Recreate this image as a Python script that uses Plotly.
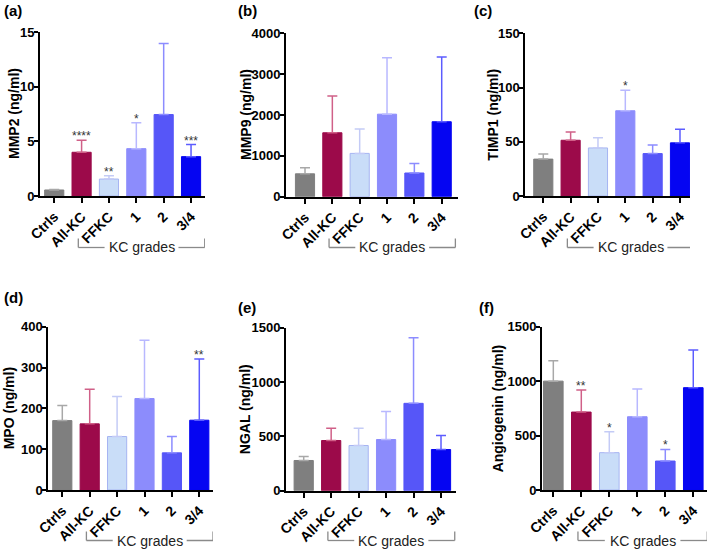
import plotly.graph_objects as go

W, H = 708, 550

categories = ["Ctrls", "All-KC", "FFKC", "1", "2", "3/4"]

# values (mean) and upper error ends
mmp2 = [0.55, 4.0, 1.55, 4.33, 7.45, 3.6]
mmp2_top = [0.6, 5.1, 1.85, 6.7, 13.95, 4.7]
mmp2_sig = ["", "****", "**", "*", "", "***"]

mmp9 = [560, 1565, 1060, 2020, 580, 1835]
mmp9_top = [710, 2465, 1655, 3400, 810, 3420]
mmp9_sig = ["", "", "", "", "", ""]

timp1 = [34, 51.4, 44.3, 78.6, 39.1, 49]
timp1_top = [38.8, 59, 53.8, 97.5, 47, 61.5]
timp1_sig = ["", "", "", "*", "", ""]

mpo = [170, 162, 131, 224, 91, 171]
mpo_top = [207, 247, 229, 367, 131, 321]
mpo_sig = ["", "", "", "", "", "**"]

ngal = [278, 462, 416, 471, 804, 379]
ngal_top = [315, 575, 575, 728, 1408, 508]
ngal_sig = ["", "", "", "", "", ""]

angio = [1000, 716, 343, 673, 266, 940]
angio_top = [1188, 918, 536, 927, 373, 1285]
angio_sig = ["", "**", "*", "", "*", ""]

ytitles = ["MMP2 (ng/ml)", "MMP9 (ng/ml)", "TIMP1 (ng/ml)",
           "MPO (ng/ml)", "NGAL (ng/ml)", "Angiogenin (ng/ml)"]
panel_labels = ["(a)", "(b)", "(c)", "(d)", "(e)", "(f)"]
ymax = [15, 4000, 150, 400, 1500, 1500]
ydtick = [5, 1000, 50, 100, 500, 500]
group_label = "KC grades"

panels = [
    (mmp2, mmp2_top, mmp2_sig),
    (mmp9, mmp9_top, mmp9_sig),
    (timp1, timp1_top, timp1_sig),
    (mpo, mpo_top, mpo_sig),
    (ngal, ngal_top, ngal_sig),
    (angio, angio_top, angio_sig),
]

fill_colors = ["#7f7f7f", "#9c0a4a", "#c9ddf8", "#8c8cfc", "#5656f8", "#0505f2"]
line_colors = ["#7f7f7f", "#9c0a4a", "#a6b4f2", "#8c8cfc", "#5656f8", "#0505f2"]
err_colors = ["#a8a8a8", "#d06088", "#c4cbf6", "#b8b8ff", "#8c8cff", "#5c5cff"]

# layout geometry (pixels): axis x start/end, y top/bottom, x range
geo = [
    dict(x0=40, x1=205, yt=32, yb=196, xr=(-0.52, 5.51), lab=(2, 10), tx=14),
    dict(x0=286, x1=457.7, yt=33.3, yb=196.7, xr=(-0.695, 5.585), lab=(236, 10), tx=246),
    dict(x0=525.3, x1=690, yt=33.3, yb=196, xr=(-0.658, 5.366), lab=(472, 10), tx=493),
    dict(x0=48.3, x1=213, yt=326.7, yb=490, xr=(-0.511, 5.5), lab=(2, 297), tx=9),
    dict(x0=286, x1=456, yt=327.7, yb=490.7, xr=(-0.645, 5.546), lab=(236, 307), tx=245),
    dict(x0=542, x1=707, yt=326.7, yb=490, xr=(-0.404, 5.49), lab=(477, 307), tx=498),
]
bracket_y = [247.5, 247.5, 247.5, 540.5, 540.5, 540.5]

fig = go.Figure()
annotations = []
shapes = []
font_fam = "Liberation Sans, Arial, sans-serif"

for p, (vals, tops, sigs) in enumerate(panels):
    g = geo[p]
    xa = "x" if p == 0 else f"x{p+1}"
    ya = "y" if p == 0 else f"y{p+1}"
    for i, cat in enumerate(categories):
        fig.add_trace(go.Bar(
            x=[i], y=[vals[i]], width=0.7, xaxis=xa, yaxis=ya,
            marker=dict(color=fill_colors[i], line=dict(color=line_colors[i], width=1)),
            error_y=dict(type="data", symmetric=False, array=[tops[i] - vals[i]],
                         arrayminus=[0], color=err_colors[i], thickness=1.5, width=5),
            showlegend=False, hoverinfo="skip",
        ))
        if sigs[i]:
            annotations.append(dict(
                x=i, y=tops[i], xref=xa, yref=ya, text=sigs[i], showarrow=False,
                yanchor="bottom", yshift=-5,
                font=dict(family=font_fam, size=12, color="#333333")))
    axkey = "xaxis" if p == 0 else f"xaxis{p+1}"
    aykey = "yaxis" if p == 0 else f"yaxis{p+1}"
    fig.layout[axkey] = dict(
        domain=[g["x0"] / W, g["x1"] / W], anchor=ya, range=list(g["xr"]),
        tickmode="array", tickvals=list(range(len(categories))), ticktext=categories,
        tickangle=-45, ticks="outside", ticklen=5, tickwidth=2, tickcolor="black",
        showline=True, linewidth=2, linecolor="black", showgrid=False, zeroline=False,
        tickfont=dict(family=font_fam, size=14, color="black", weight="bold"),
        fixedrange=True, automargin=False,
    )
    fig.layout[aykey] = dict(
        domain=[1 - g["yb"] / H, 1 - g["yt"] / H], anchor=xa, range=[0, ymax[p]],
        tickmode="linear", tick0=0, dtick=ydtick[p],
        ticks="outside", ticklen=4, tickwidth=2, tickcolor="black",
        ticklabelstandoff=-3,
        showline=True, linewidth=2, linecolor="black", showgrid=False, zeroline=False,
        tickfont=dict(family=font_fam, size=13, color="black", weight="bold"),
        fixedrange=True, automargin=False,
    )
    # y title
    annotations.append(dict(
        x=g["tx"] / W, y=1 - (g["yt"] + g["yb"]) / 2 / H, xref="paper", yref="paper",
        text=ytitles[p], textangle=-90, showarrow=False, xanchor="center", yanchor="middle",
        font=dict(family=font_fam, size=14, color="black", weight="bold")))
    # panel label
    annotations.append(dict(
        x=g["lab"][0] / W, y=1 - g["lab"][1] / H, xref="paper", yref="paper",
        text=panel_labels[p], showarrow=False, xanchor="left", yanchor="middle",
        font=dict(family=font_fam, size=15, color="black", weight="bold")))
    # KC grades bracket
    by = 1 - bracket_y[p] / H
    bt = 1 - (bracket_y[p] - 9) / H
    bx0, bx1 = 0.88, 5.5
    cx = (bx0 + bx1) / 2
    half = 37 / 27.4
    lc = dict(color="#8a8a8a", width=1.3)
    shapes += [
        dict(type="line", xref=xa, yref="paper", x0=bx0, x1=cx - half, y0=by, y1=by, line=lc),
        dict(type="line", xref=xa, yref="paper", x0=cx + half, x1=bx1, y0=by, y1=by, line=lc),
        dict(type="line", xref=xa, yref="paper", x0=bx0, x1=bx0, y0=by, y1=bt, line=lc),
        dict(type="line", xref=xa, yref="paper", x0=bx1, x1=bx1, y0=by, y1=bt, line=lc),
    ]
    annotations.append(dict(
        x=cx, y=by, xref=xa, yref="paper", text=group_label, showarrow=False,
        xanchor="center", yanchor="middle",
        font=dict(family=font_fam, size=14, color="#222222")))

fig.update_layout(
    template="none",
    width=W, height=H, margin=dict(l=0, r=0, t=0, b=0, autoexpand=False),
    paper_bgcolor="white", plot_bgcolor="white",
    barmode="overlay", annotations=annotations, shapes=shapes,
    showlegend=False,
)

fig.write_html("out.html", config={"displayModeBar": False},
               post_script="document.body.style.margin='0';document.body.style.padding='0';document.body.style.overflow='hidden';")
